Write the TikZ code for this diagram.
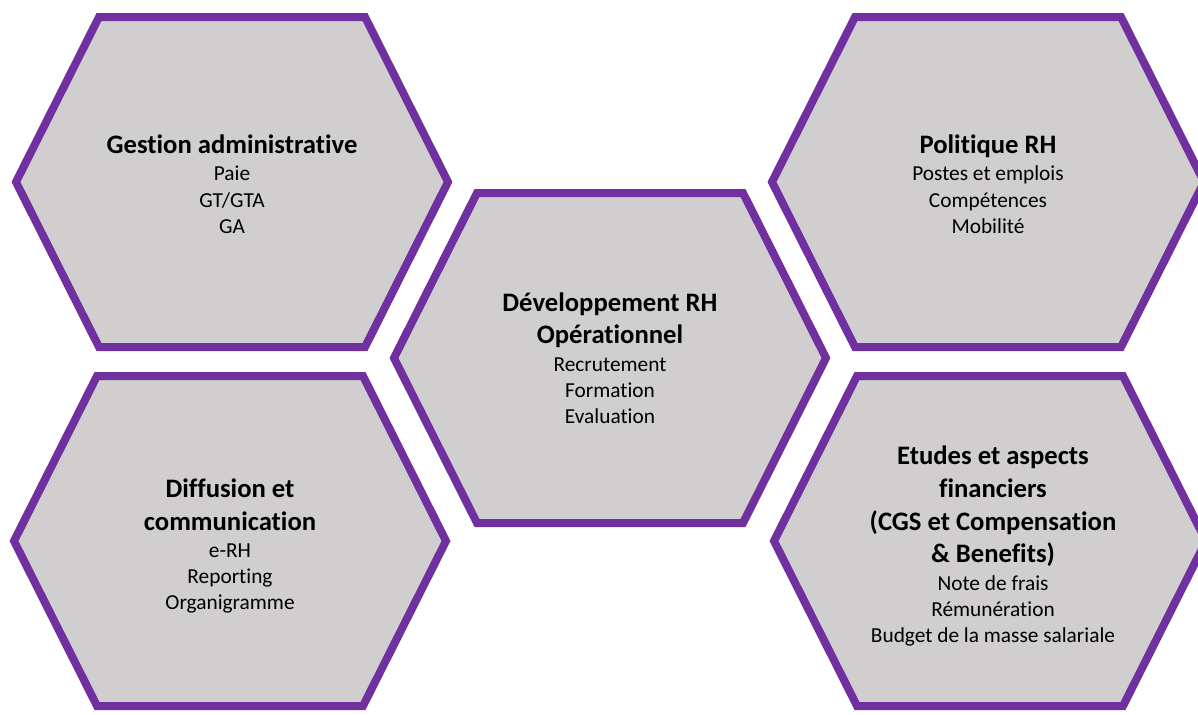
\documentclass[tikz,border=0pt]{standalone}
\usepackage{fontspec}
\setmainfont{Carlito}[Ligatures=NoCommon]
\definecolor{hexpurple}{HTML}{7030A0}
\definecolor{hexgray}{HTML}{D0CECE}
\newcommand\titlef{\fontsize{20}{24.5}\selectfont\bfseries}
\newcommand\bodyf{\fontsize{16}{19.6}\selectfont\mdseries}
\tikzset{
  hexline/.style={draw=hexpurple, fill=hexgray, line width=6pt, line join=miter},
  hexa/.pic={\path[hexline] (-216,0) -- (-133,-165) -- (133,-165) -- (216,0) -- (133,165) -- (-133,165) -- cycle;},
  hextext/.style={align=center, text=black, inner sep=0pt, font=\bodyf}
}
\begin{document}
\begin{tikzpicture}[x=0.75pt, y=-0.75pt]
\useasboundingbox (0,0) rectangle (1198,714);
\pic at (232,182) {hexa};
\pic at (988,182) {hexa};
\pic at (230,541) {hexa};
\pic at (990,541) {hexa};
\pic at (610,358) {hexa};
\node[hextext] (ga) at (232,184) {\titlef Gestion administrative\\[1pt] \bodyf Paie\\ \bodyf GT/GTA\\ \bodyf GA};
\node[hextext] (pol) at (988,184) {\titlef Politique RH\\[1pt] \bodyf Postes et emplois\\ \bodyf Compétences\\ \bodyf Mobilité};
\node[hextext] (dev) at (610,358) {\titlef Développement RH\\[5pt] \titlef Opérationnel\\[1pt] \bodyf Recrutement\\ \bodyf Formation\\ \bodyf Evaluation};
\node[hextext] (dif) at (230,546) {\titlef Diffusion et\\[5pt] \titlef communication\\[1pt] \bodyf e-RH\\ \bodyf Reporting\\ \bodyf Organigramme};
\node[hextext] (etu) at (993,546) {\titlef Etudes et aspects\\[5pt] \titlef financiers\\[5pt] \titlef (CGS et Compensation\\[5pt] \titlef \& Benefits)\\[1pt] \bodyf Note de frais\\ \bodyf Rémunération\\ \bodyf Budget de la masse salariale};
\end{tikzpicture}
\end{document}
